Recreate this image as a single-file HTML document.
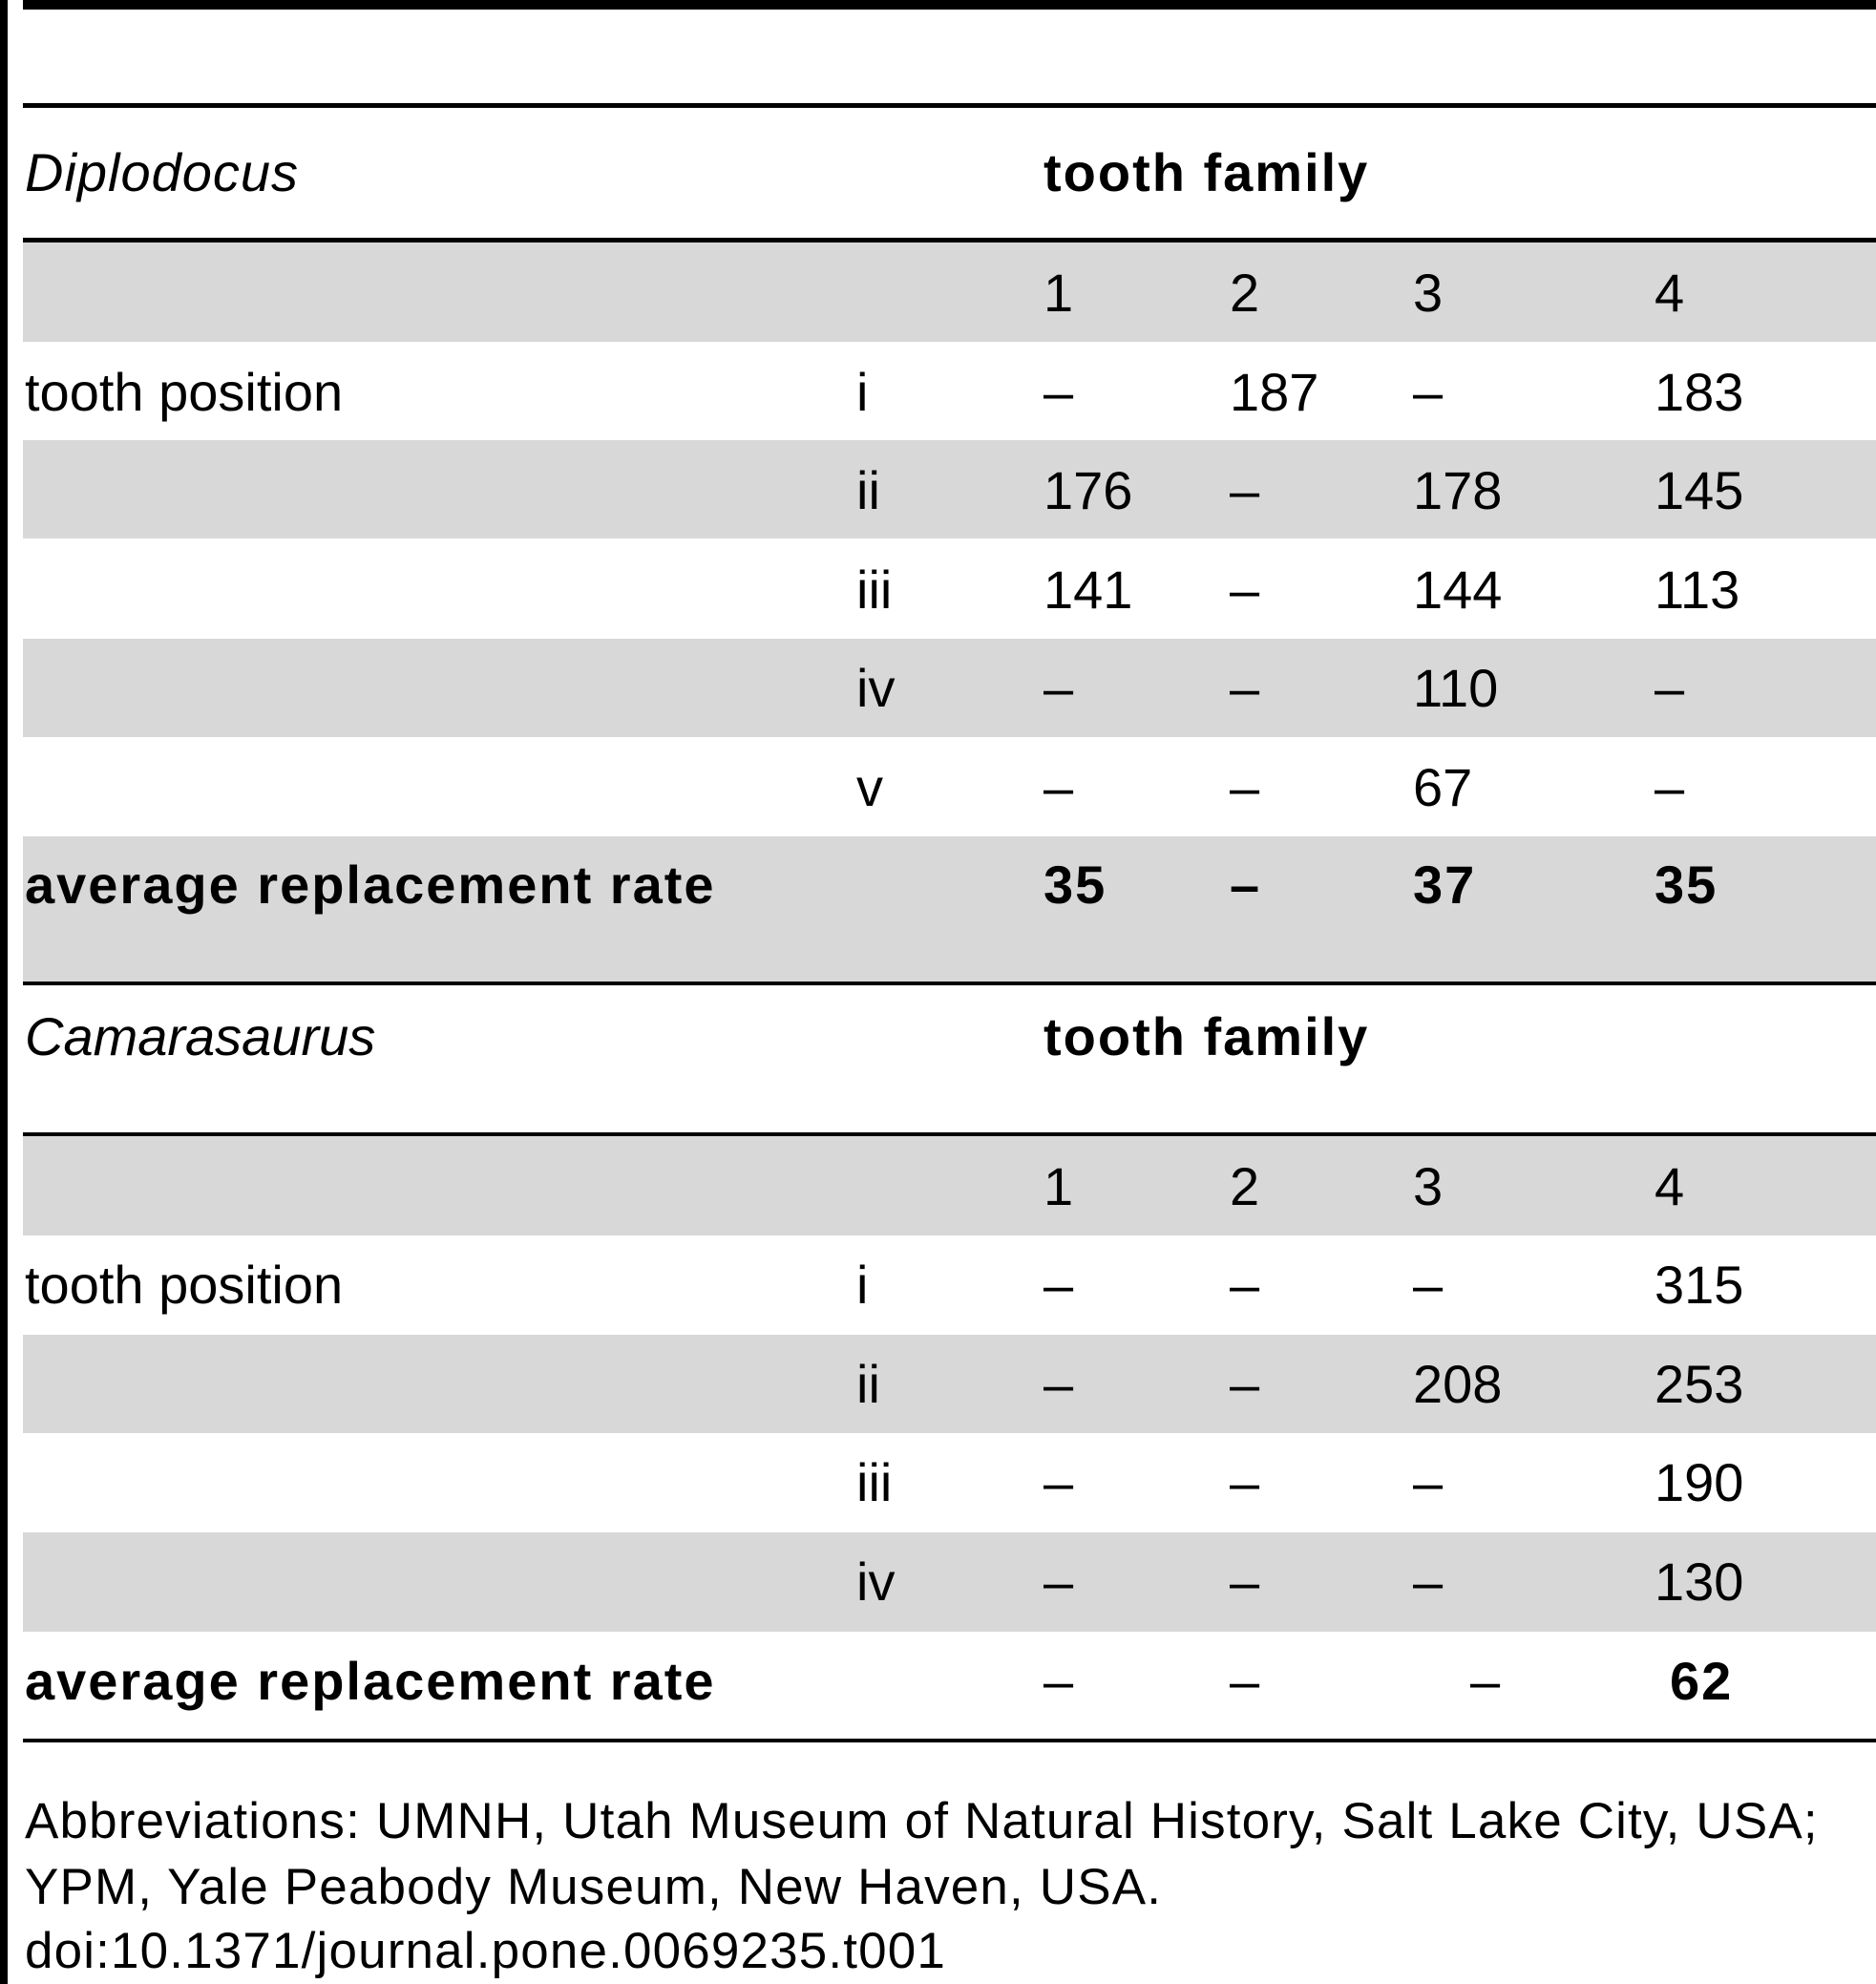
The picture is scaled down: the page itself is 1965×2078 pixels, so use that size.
<!DOCTYPE html>
<html><head><meta charset="utf-8"><style>
html,body{margin:0;padding:0;}
body{width:1965px;height:2078px;position:relative;background:#fff;font-family:"Liberation Sans",sans-serif;font-size:56px;color:#000;overflow:hidden;}
.bar{position:absolute;left:0;top:0;width:8px;height:2078px;background:#000;}
.ln{position:absolute;left:24px;right:0;background:#000;}
.g{position:absolute;left:24px;right:0;background:#d8d8d8;}
.t{position:absolute;line-height:60px;height:60px;white-space:nowrap;}
.b{font-weight:bold;letter-spacing:2px;}
.i{font-style:italic;}
.f{font-size:53px;letter-spacing:1.15px;}
</style></head><body>
<div class="bar"></div>
<div class="ln" style="top:0;height:10px"></div>
<div class="ln" style="top:108px;height:5px"></div>
<div class="ln" style="top:249px;height:5px"></div>
<div class="g" style="top:254px;height:104px"></div>
<div class="g" style="top:461px;height:103px"></div>
<div class="g" style="top:669px;height:103px"></div>
<div class="g" style="top:876px;height:152px"></div>
<div class="ln" style="top:1028px;height:4px"></div>
<div class="ln" style="top:1186px;height:4px"></div>
<div class="g" style="top:1190px;height:104px"></div>
<div class="g" style="top:1398px;height:103px"></div>
<div class="g" style="top:1605px;height:104px"></div>
<div class="ln" style="top:1821px;height:4px"></div>

<div class="t i" style="left:26px;top:151px;letter-spacing:1px">Diplodocus</div>
<div class="t b" style="left:1093px;top:151px">tooth family</div>
<div class="t" style="left:1093px;top:277px">1</div>
<div class="t" style="left:1288px;top:277px">2</div>
<div class="t" style="left:1480px;top:277px">3</div>
<div class="t" style="left:1733px;top:277px">4</div>

<div class="t" style="left:26px;top:381px">tooth position</div>
<div class="t" style="left:897px;top:381px">i</div>
<div class="t" style="left:1093px;top:381px">–</div>
<div class="t" style="left:1288px;top:381px">187</div>
<div class="t" style="left:1480px;top:381px">–</div>
<div class="t" style="left:1733px;top:381px">183</div>

<div class="t" style="left:897px;top:484px">ii</div>
<div class="t" style="left:1093px;top:484px">176</div>
<div class="t" style="left:1288px;top:484px">–</div>
<div class="t" style="left:1480px;top:484px">178</div>
<div class="t" style="left:1733px;top:484px">145</div>

<div class="t" style="left:897px;top:588px">iii</div>
<div class="t" style="left:1093px;top:588px">141</div>
<div class="t" style="left:1288px;top:588px">–</div>
<div class="t" style="left:1480px;top:588px">144</div>
<div class="t" style="left:1733px;top:588px">113</div>

<div class="t" style="left:897px;top:691px">iv</div>
<div class="t" style="left:1093px;top:691px">–</div>
<div class="t" style="left:1288px;top:691px">–</div>
<div class="t" style="left:1480px;top:691px">110</div>
<div class="t" style="left:1733px;top:691px">–</div>

<div class="t" style="left:897px;top:795px">v</div>
<div class="t" style="left:1093px;top:795px">–</div>
<div class="t" style="left:1288px;top:795px">–</div>
<div class="t" style="left:1480px;top:795px">67</div>
<div class="t" style="left:1733px;top:795px">–</div>

<div class="t b" style="left:26px;top:897px">average replacement rate</div>
<div class="t b" style="left:1093px;top:897px">35</div>
<div class="t b" style="left:1288px;top:897px">–</div>
<div class="t b" style="left:1480px;top:897px">37</div>
<div class="t b" style="left:1733px;top:897px">35</div>

<div class="t i" style="left:26px;top:1056px">Camarasaurus</div>
<div class="t b" style="left:1093px;top:1056px">tooth family</div>
<div class="t" style="left:1093px;top:1213px">1</div>
<div class="t" style="left:1288px;top:1213px">2</div>
<div class="t" style="left:1480px;top:1213px">3</div>
<div class="t" style="left:1733px;top:1213px">4</div>

<div class="t" style="left:26px;top:1316px">tooth position</div>
<div class="t" style="left:897px;top:1316px">i</div>
<div class="t" style="left:1093px;top:1316px">–</div>
<div class="t" style="left:1288px;top:1316px">–</div>
<div class="t" style="left:1480px;top:1316px">–</div>
<div class="t" style="left:1733px;top:1316px">315</div>

<div class="t" style="left:897px;top:1420px">ii</div>
<div class="t" style="left:1093px;top:1420px">–</div>
<div class="t" style="left:1288px;top:1420px">–</div>
<div class="t" style="left:1480px;top:1420px">208</div>
<div class="t" style="left:1733px;top:1420px">253</div>

<div class="t" style="left:897px;top:1523px">iii</div>
<div class="t" style="left:1093px;top:1523px">–</div>
<div class="t" style="left:1288px;top:1523px">–</div>
<div class="t" style="left:1480px;top:1523px">–</div>
<div class="t" style="left:1733px;top:1523px">190</div>

<div class="t" style="left:897px;top:1627px">iv</div>
<div class="t" style="left:1093px;top:1627px">–</div>
<div class="t" style="left:1288px;top:1627px">–</div>
<div class="t" style="left:1480px;top:1627px">–</div>
<div class="t" style="left:1733px;top:1627px">130</div>

<div class="t b" style="left:26px;top:1731px">average replacement rate</div>
<div class="t" style="left:1093px;top:1731px">–</div>
<div class="t" style="left:1288px;top:1731px">–</div>
<div class="t" style="left:1540px;top:1731px">–</div>
<div class="t b" style="left:1749px;top:1731px">62</div>

<div class="t f" style="left:26px;top:1878px">Abbreviations: UMNH, Utah Museum of Natural History, Salt Lake City, USA;</div>
<div class="t f" style="left:26px;top:1947px">YPM, Yale Peabody Museum, New Haven, USA.</div>
<div class="t f" style="left:26px;top:2014px">doi:10.1371/journal.pone.0069235.t001</div>
</body></html>
